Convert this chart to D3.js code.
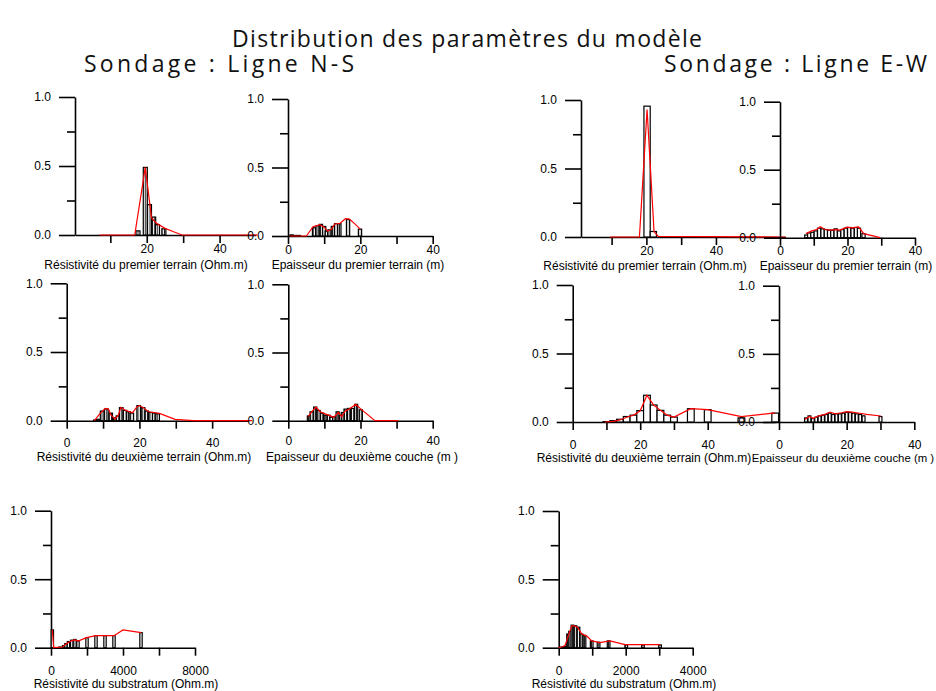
<!DOCTYPE html>
<html>
<head>
<meta charset="utf-8">
<script src="https://cdn.jsdelivr.net/npm/d3@7"></script>
<style>
  body { margin: 0; background: #fff; }
  svg { display: block; }
  .ax text { font-family: "Liberation Sans", Arial, sans-serif; font-size: 12px; fill: #000; }
  .ax path, .ax line { stroke: #000; stroke-width: 1.6px; }
  .xt { font-family: "Liberation Sans", Arial, sans-serif; font-size: 12px; fill: #000; }
  .head { font-family: "Open Sans", "Noto Sans", sans-serif; font-weight: 400; font-size: 23px; fill: #111; }
</style>
</head>
<body>
<svg id="chart" width="936" height="691"></svg>
<script>
// ---- Histogram bars [value, frequency] and frequency polygons [value, frequency] ----

// Sondage : Ligne N-S
const nsRho1Bars = [[17.6,0.03],[19.6,0.49],[20.75,0.22],[21.9,0.13],[22.95,0.075],[24.7,0.045]];
const nsRho1Line = [[7,0],[16.7,0],[19.6,0.49],[21.3,0.125],[22.6,0.087],[24.9,0.05],[27.2,0.025],[29.7,0],[50.5,0]];

const nsH1Bars = [[1,0.008],[2,0.004],[3,0.004],[7.2,0.06],[8.2,0.075],[9.1,0.085],[10,0.07],[10.7,0.035],
  [11.5,0.045],[12.4,0.07],[13.3,0.09],[14.2,0.09],[16.6,0.12],[19.9,0.05]];
const nsH1Line = [[0.5,0],[5.1,0],[6.9,0.068],[8.8,0.083],[10.1,0.063],[10.9,0.036],[12,0.049],[12.9,0.088],
  [14.3,0.092],[15.9,0.126],[17,0.124],[18.4,0.09],[20,0.05]];

const nsRho2Bars = [[7.9,0.005],[8.75,0.01],[9.75,0.07],[10.9,0.085],[12.1,0.055],[13.4,0.02],[14.1,0.035],
  [15,0.095],[16,0.075],[17,0.065],[17.9,0.055],[19.8,0.11],[21,0.095],[22,0.07],[23.1,0.06],[24.1,0.055],[25,0.05]];
const nsRho2Line = [[7.6,0],[9.2,0.053],[10.6,0.09],[11.5,0.085],[12.2,0.04],[13.3,0.012],[14.2,0.04],[14.9,0.097],
  [16,0.078],[17,0.068],[18.1,0.058],[19.3,0.1],[20,0.11],[21.1,0.095],[22.5,0.065],[25.5,0.053],[29.8,0.01],[34.9,0],[51,0]];

const nsH2Bars = [[5.7,0.035],[6.45,0.065],[7.45,0.1],[8.4,0.075],[9.35,0.055],[10.35,0.04],[11.15,0.04],[11.9,0.025],
  [12.75,0.03],[13.65,0.065],[14.45,0.04],[15.1,0.06],[15.85,0.085],[16.8,0.09],[17.75,0.09],[18.8,0.12],[20.1,0.08]];
const nsH2Line = [[5.5,0.03],[6.5,0.066],[7.7,0.1],[8.8,0.066],[10.2,0.05],[11.5,0.037],[12.6,0.025],[13.9,0.06],
  [14.8,0.03],[15.7,0.07],[17.1,0.09],[18.7,0.12],[19.9,0.09],[24,0],[30.5,0]];

const nsRhoSBars = [[75,0.13],[500,0.005],[700,0.015],[830,0.03],[970,0.045],[1150,0.055],[1330,0.06],[1500,0.05],
  [2000,0.073],[2500,0.088],[3000,0.088],[3500,0.088],[5000,0.11]];
const nsRhoSLine = [[75,0.13],[150,0],[650,0.005],[866,0.03],[1140,0.05],[1330,0.057],[1510,0.048],[1970,0.073],
  [2490,0.088],[3500,0.088],[4000,0.13],[5010,0.11]];

// Sondage : Ligne E-W
const ewRho1Bars = [[20.2,0.955],[22,0.04]];
const ewRho1Line = [[9.5,0],[18,0],[20.2,0.93],[22.2,0.04],[23.4,0.005],[60,0]];

const ewH1Bars = [[7.8,0.02],[8.65,0.035],[9.6,0.04],[10.6,0.05],[11.6,0.07],[12.6,0.065],[13.6,0.06],[14.55,0.055],
  [15.5,0.055],[16.5,0.065],[17.5,0.05],[18.5,0.06],[19.5,0.07],[20.5,0.075],[21.5,0.07],[22.5,0.075],[23.4,0.07],[24.75,0.03]];
const ewH1Line = [[7.7,0.03],[9.4,0.05],[10.9,0.06],[11.9,0.08],[13.4,0.06],[14.9,0.056],[16.8,0.06],[17.8,0.056],
  [19.8,0.078],[21.3,0.073],[23.3,0.08],[24.8,0.03],[29.7,0]];

const ewRho2Bars = [[10,0.003],[12,0.01],[14,0.02],[16,0.04],[18,0.05],[20,0.083],[22,0.195],[24,0.124],[26,0.085],
  [28,0.05],[30,0.036],[35,0.097],[40,0.09],[50,0.03],[60,0.065]];
const ewRho2Line = [[9.5,0],[12,0.005],[14,0.015],[16,0.035],[18,0.05],[20,0.082],[22,0.195],[24,0.124],[26,0.085],
  [28,0.05],[30,0.036],[35,0.097],[40,0.09],[50,0.04],[60,0.066]];

const ewH2Bars = [[8,0.03],[9,0.045],[10,0.025],[11,0.035],[12,0.045],[13,0.05],[14,0.055],[15,0.065],[16,0.055],
  [17,0.06],[18,0.06],[19,0.065],[20,0.07],[21,0.07],[22,0.065],[23,0.06],[24,0.055],[25,0.045],[30,0.04]];
const ewH2Line = [[7.7,0.02],[9,0.04],[10.1,0.027],[11.6,0.044],[13.6,0.056],[15.1,0.073],[16.6,0.06],[18.5,0.068],
  [20,0.076],[21.5,0.073],[23.9,0.064],[25.9,0.056],[30.1,0.044]];

const ewRhoSBars = [[100,0.005],[200,0.01],[280,0.1],[340,0.12],[410,0.165],[500,0.16],[590,0.15],[680,0.1],[770,0.09],
  [985,0.05],[1190,0.04],[1490,0.05],[2015,0.02],[2515,0.02],[3025,0.02]];
const ewRhoSLine = [[0,0],[90,0.005],[190,0.015],[290,0.09],[390,0.16],[460,0.16],[560,0.15],[690,0.1],[840,0.085],
  [985,0.05],[1230,0.037],[1530,0.05],[1980,0.022],[2530,0.022],[3020,0.022]];

// ---- Axis ticks and labels ----
const yMajorTicks = [0, 0.5, 1];
const yMinorTicks = [0.25, 0.75];
const ticks0to40 = [0, 10, 20, 30, 40];
const labels0to40 = [0, 20, 40];
const ticks10to40 = [10, 20, 30, 40];
const labels20to40 = [20, 40];
const ticksRhoS8000 = [0, 2000, 4000, 6000, 8000];
const labelsRhoS8000 = [0, 4000, 8000];
const ticksRhoS4000 = [0, 1000, 2000, 3000, 4000];
const labelsRhoS4000 = [0, 2000, 4000];

// ---- Headings ----
const mainTitle = "Distribution des paramètres du modèle";
const subTitles = ["Sondage : Ligne N-S", "Sondage : Ligne E-W"];

// ---- Panel layout ----
const panels = [
  { bars: nsRho1Bars, bw: 1.1, line: nsRho1Line, dom: [0.3, 50], rng: [75, 256], yr: [235, 97],
    ticks: ticks10to40, labels: labels20to40, pad: 1, hatch: true,
    title: "Résistivité du premier terrain (Ohm.m)", tx: 146, ty: 269 },
  { bars: nsH1Bars, bw: 0.9, line: nsH1Line, dom: [0, 40], rng: [288, 432.7], yr: [236, 99],
    ticks: ticks0to40, labels: labels0to40, pad: 1, hatch: true,
    title: "Epaisseur du premier terrain (m)", tx: 358, ty: 269 },
  { bars: nsRho2Bars, bw: 1.0, line: nsRho2Line, dom: [0, 50], rng: [66.7, 248.5], yr: [420.7, 283.3],
    ticks: ticks0to40, labels: labels0to40, pad: 10, hatch: true,
    title: "Résistivité du deuxième terrain (Ohm.m)", tx: 144, ty: 461 },
  { bars: nsH2Bars, bw: 0.85, line: nsH2Line, dom: [0, 40], rng: [288.3, 432.7], yr: [420.7, 284.3],
    ticks: ticks0to40, labels: labels0to40, pad: 8, hatch: true,
    title: "Epaisseur du deuxième couche (m )", tx: 362, ty: 461 },
  { bars: nsRhoSBars, bw: 130, line: nsRhoSLine, dom: [0, 8000], rng: [51, 195], yr: [647.7, 510.7],
    ticks: ticksRhoS8000, labels: labelsRhoS8000, pad: 11, hatch: false,
    title: "Résistivité du substratum (Ohm.m)", tx: 126, ty: 688 },
  { bars: ewRho1Bars, bw: 1.8, line: ewRho1Line, dom: [1.2, 60], rng: [581, 785.5], yr: [237, 100],
    ticks: ticks10to40, labels: labels20to40, pad: 1, hatch: false,
    title: "Résistivité du premier terrain (Ohm.m)", tx: 645, ty: 270 },
  { bars: ewH1Bars, bw: 0.95, line: ewH1Line, dom: [0, 40], rng: [780, 915], yr: [237.7, 101.7],
    ticks: ticks0to40, labels: labels0to40, pad: 1, hatch: false,
    title: "Epaisseur du premier terrain (m)", tx: 846, ty: 270 },
  { bars: ewRho2Bars, bw: 2.0, line: ewRho2Line, dom: [0, 60], rng: [572.7, 775.2], yr: [422, 285],
    ticks: ticks0to40, labels: labels0to40, pad: 10, hatch: false,
    title: "Résistivité du deuxième terrain (Ohm.m)", tx: 644, ty: 462 },
  { bars: ewH2Bars, bw: 0.85, line: ewH2Line, dom: [0, 40], rng: [779, 914.3], yr: [422, 285.7],
    ticks: ticks0to40, labels: labels0to40, pad: 10, hatch: false,
    title: "Epaisseur du deuxième couche (m )", tx: 843, ty: 462, small: true },
  { bars: ewRhoSBars, bw: 80, line: ewRhoSLine, dom: [0, 4000], rng: [558.7, 692.7], yr: [647.7, 511],
    ticks: ticksRhoS4000, labels: labelsRhoS4000, pad: 11, hatch: true,
    title: "Résistivité du substratum (Ohm.m)", tx: 624, ty: 688 }
];

const svg = d3.select("#chart");

// vertical hatching used inside the denser histograms
const defs = svg.append("defs");
const pat = defs.append("pattern").attr("id", "hatch")
  .attr("patternUnits", "userSpaceOnUse").attr("width", 2.4).attr("height", 10);
pat.append("rect").attr("width", 2.4).attr("height", 10).attr("fill", "#fff");
pat.append("line").attr("x1", 1.2).attr("x2", 1.2).attr("y1", 0).attr("y2", 10)
  .attr("stroke", "#000").attr("stroke-width", 0.9);

// headings
svg.append("text").attr("class", "head").attr("x", 467).attr("y", 47)
  .attr("text-anchor", "middle").attr("textLength", 470).attr("lengthAdjust", "spacing")
  .text(mainTitle);
svg.append("text").attr("class", "head").attr("x", 84).attr("y", 72)
  .attr("textLength", 270).attr("lengthAdjust", "spacing").text(subTitles[0]);
svg.append("text").attr("class", "head").attr("x", 664).attr("y", 72)
  .attr("textLength", 263).attr("lengthAdjust", "spacing").text(subTitles[1]);

panels.forEach(p => {
  const x = d3.scaleLinear().domain(p.dom).range(p.rng);
  const y = d3.scaleLinear().domain([0, 1]).range(p.yr);
  const g = svg.append("g");
  const x0 = p.rng[0];

  // y axis: labelled major ticks and short minor ticks
  g.append("g").attr("class", "ax").attr("transform", `translate(${x0},0)`)
    .call(d3.axisLeft(y).tickValues(yMajorTicks).tickSize(16).tickSizeOuter(0)
      .tickPadding(8).tickFormat(d3.format(".1f")));
  g.append("g").attr("class", "ax").attr("transform", `translate(${x0},0)`)
    .call(d3.axisLeft(y).tickValues(yMinorTicks).tickSize(8).tickSizeOuter(0).tickFormat(""))
    .select(".domain").remove();

  // x axis along the zero line
  g.append("g").attr("class", "ax").attr("transform", `translate(0,${y(0)})`)
    .call(d3.axisBottom(x).tickValues(p.ticks).tickSize(8).tickSizeOuter(0).tickPadding(p.pad)
      .tickFormat(d => p.labels.includes(d) ? d : ""));

  // histogram bars
  g.append("g").selectAll("rect").data(p.bars).join("rect")
    .attr("x", d => x(d[0] - p.bw / 2))
    .attr("width", d => x(d[0] + p.bw / 2) - x(d[0] - p.bw / 2))
    .attr("y", d => y(d[1]))
    .attr("height", d => y(0) - y(d[1]))
    .attr("fill", p.hatch ? "url(#hatch)" : "#fff")
    .attr("stroke", "#000").attr("stroke-width", 1.2);

  // frequency polygon
  g.append("path").datum(p.line)
    .attr("fill", "none").attr("stroke", "#ff0000").attr("stroke-width", 1.2)
    .attr("d", d3.line().x(d => x(d[0])).y(d => y(d[1])));

  // axis title
  g.append("text").attr("class", "xt").attr("x", p.tx).attr("y", p.ty)
    .attr("text-anchor", "middle").style("font-size", p.small ? "11.4px" : null).text(p.title);
});
</script>
</body>
</html>
